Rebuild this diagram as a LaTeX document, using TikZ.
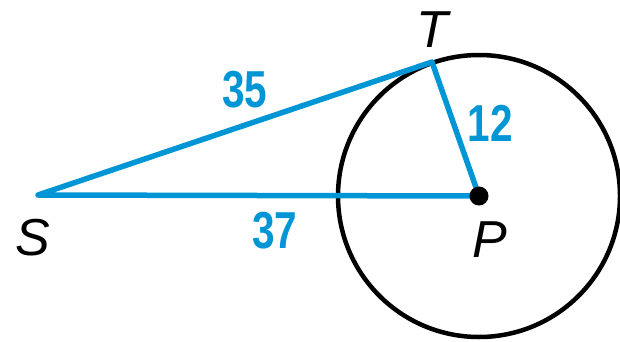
\documentclass[tikz,border=0pt]{standalone}
\usepackage{fontspec}
\setmainfont{Liberation Sans}
\definecolor{segblue}{RGB}{0,150,214}

\begin{document}
\begin{tikzpicture}[x=1pt,y=1pt,line join=round,
  seg/.style={segblue,line width=5.5pt},
  num/.style={text=segblue,font=\fontsize{52}{54}\selectfont\bfseries,xscale=0.78},
  pt/.style={font=\fontsize{52}{54}\selectfont\itshape}]
  \useasboundingbox (0,0) rectangle (620,341);
  % points
  \coordinate (S) at (38,146);
  \coordinate (T) at (432,279);
  \coordinate (P) at (479,145);
  % circle
  \draw[line width=4.5pt] (P) circle (141);
  % segments
  \draw[seg] (S) -- (T) -- (P) -- cycle;
  \fill (P) circle (9.5);
  % labels
  \node[pt] (lS) at (33,103) {S};
  \node[pt] (lT) at (432,311) {T};
  \node[pt] (lP) at (490,101) {P};
  \node[num] (n35) at (245,251) {35};
  \node[num] (n12) at (490,218) {12};
  \node[num] (n37) at (275,110) {37};
\end{tikzpicture}
\end{document}
